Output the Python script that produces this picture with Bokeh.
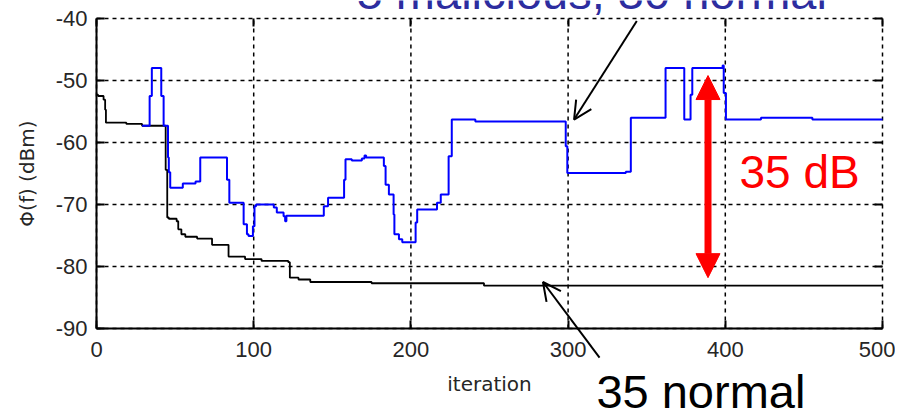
from bokeh.plotting import figure
from bokeh.models import (FixedTicker, LinearAxis, Label, Arrow, NormalHead, OpenHead, Grid)
from bokeh.embed import file_html
from bokeh.resources import INLINE

# ---- data ----
normal_iter = [0, 1, 4.5, 5.5, 6, 19, 29, 44, 45, 46, 51, 52, 54, 56.5, 64, 73.5, 84,
               94.5, 105, 122, 123, 128.5, 136, 175, 246.5, 500]
normal_phi = [-52.3, -52.5, -53.1, -54.7, -56.8, -57.0, -57.3, -64.4, -72.1, -72.3, -72.7,
              -74.0, -74.8, -75.2, -75.5, -76.5, -78.4, -78.8, -79.1, -79.3, -81.8, -82.1,
              -82.5, -82.7, -83.1, -83.1]

mixed_iter = [29, 33.8, 35.2, 41.2, 42.7, 45.5, 46, 46.9, 54.9, 63, 66, 83, 84.5, 93.6,
              95.7, 96.7, 99.5, 100.5, 101.5, 112.8, 114.7, 119, 120, 120.8, 144.6, 147.3,
              157.5, 158.4, 162.4, 168.8, 170.5, 171.5, 182.8, 183.9, 186, 189, 189.5,
              192.4, 194.5, 203, 204, 216.6, 219, 224, 226, 241, 298.5, 299.5, 336.7,
              339.9, 362, 373.9, 377.9, 379, 398.3, 399, 400.4, 422.7, 455.4, 500]
mixed_phi = [-57.3, -52.5, -48.0, -52.5, -57.3, -62.4, -64.8, -67.3, -66.6, -66.3, -62.4,
             -66.0, -69.7, -73.2, -74.8, -75.1, -73.5, -70.3, -70.0, -70.5, -71.3, -71.9,
             -72.7, -71.8, -70.3, -68.9, -66.0, -62.7, -62.9, -62.6, -62.1, -62.4, -63.8,
             -66.8, -68.4, -71.6, -74.8, -75.6, -76.1, -72.9, -70.8, -69.7, -68.4, -62.2,
             -56.3, -56.6, -60.6, -64.9, -64.7, -56.0, -48.0, -56.3, -52.3, -48.0, -47.6,
             -52.0, -56.3, -56.0, -56.3, -56.3]

x_ticks = [0, 100, 200, 300, 400, 500]
x_tick_labels = ["0", "100", "200", "300", "400", "500"]
y_ticks = [-90, -80, -70, -60, -50, -40]
y_tick_labels = ["-90", "-80", "-70", "-60", "-50", "-40"]

gap_x = 389
gap_top = -49.2
gap_bottom = -81.8

# ---- layout: the frame fills the whole canvas; the data box sits inside it ----
W, H = 895, 408
box_left, box_right, box_top, box_bottom = 96, 882, 18, 328   # canvas pixels
x0, x1 = x_ticks[0], x_ticks[-1]
y0, y1 = y_ticks[0], y_ticks[-1]
sx = (box_right - box_left) / (x1 - x0)
sy = (box_bottom - box_top) / (y1 - y0)
x_range = (x0 - box_left / sx, x1 + (W - box_right) / sx)
y_range = (y0 - (H - box_bottom) / sy, y1 + box_top / sy)

p = figure(width=W, height=H, x_range=x_range, y_range=y_range,
           output_backend="svg", toolbar_location=None,
           x_axis_location=None, y_axis_location=None,
           min_border_left=0, min_border_right=0, min_border_top=0, min_border_bottom=0)
p.outline_line_color = None
p.background_fill_color = "white"
p.border_fill_color = "white"
for r in list(p.center):
    if isinstance(r, Grid):
        r.visible = False

# dashed grid inside the data box
p.segment(x0=x_ticks, y0=[y0] * len(x_ticks), x1=x_ticks, y1=[y1] * len(x_ticks),
          line_color="black", line_dash="4 4", line_width=1.5)
p.segment(x0=[x0] * len(y_ticks), y0=y_ticks, x1=[x1] * len(y_ticks), y1=y_ticks,
          line_color="black", line_dash="4 4", line_width=1.5)

def style_axis(ax):
    ax.axis_line_color = "black"
    ax.axis_line_width = 2
    ax.major_tick_in = 8
    ax.major_tick_out = 0
    ax.major_tick_line_color = "black"
    ax.major_tick_line_width = 2
    ax.minor_tick_line_color = None
    ax.major_label_text_font = "Liberation Sans"
    ax.major_label_text_font_size = "22px"
    ax.major_label_text_color = "#262626"
    ax.axis_label_text_font = "DejaVu Sans"
    ax.axis_label_text_font_style = "normal"
    ax.axis_label_text_font_size = "20px"
    ax.axis_label_text_color = "#262626"

xaxis = LinearAxis(fixed_location=y0, bounds=(x0, x1), ticker=FixedTicker(ticks=x_ticks),
                   major_label_overrides=dict(zip(x_ticks, x_tick_labels)),
                   axis_label="iteration")
style_axis(xaxis)
xaxis.major_label_standoff = 13
xaxis.axis_label_standoff = 12
p.add_layout(xaxis, "below")

yaxis = LinearAxis(fixed_location=x0, bounds=(y0, y1), ticker=FixedTicker(ticks=y_ticks),
                   major_label_overrides=dict(zip(y_ticks, y_tick_labels)),
                   axis_label="\u03a6(f) (dBm)")
style_axis(yaxis)
yaxis.major_label_standoff = 9
yaxis.axis_label_standoff = 14
p.add_layout(yaxis, "left")

for ax_loc, loc, bnd, tk in (("above", y1, (x0, x1), x_ticks), ("right", x1, (y0, y1), y_ticks)):
    ax = LinearAxis(fixed_location=loc, bounds=bnd, ticker=FixedTicker(ticks=tk),
                    axis_line_color=None,
                    major_tick_in=8, major_tick_out=0, major_tick_line_color="black",
                    major_tick_line_width=2, minor_tick_line_color=None,
                    major_label_overrides={t: "" for t in tk},
                    major_label_text_font_size="10px", major_label_standoff=0)
    p.add_layout(ax, ax_loc)

p.step(normal_iter, normal_phi, mode="after", line_color="black", line_width=1.8)
p.step(mixed_iter, mixed_phi, mode="after", line_color="#0000ff", line_width=2)

# red double arrow
p.add_layout(Arrow(x_start=gap_x, y_start=gap_bottom, x_end=gap_x, y_end=gap_top,
                   line_color="#ff0000", line_width=7,
                   start=NormalHead(size=24, fill_color="#ff0000", line_color="#ff0000"),
                   end=NormalHead(size=24, fill_color="#ff0000", line_color="#ff0000")))
p.add_layout(Label(x=409, y=-68.9, text="35 dB", text_font="Liberation Sans",
                   text_font_size="46px", text_color="#ff0000"))

# black pointer arrows
p.add_layout(Arrow(x_start=343.7, y_start=-40.4, x_end=303.8, y_end=-56.3,
                   line_color="black", line_width=2,
                   end=OpenHead(size=18, line_color="black", line_width=2)))
p.add_layout(Arrow(x_start=320, y_start=-94.7, x_end=284, y_end=-82.5,
                   line_color="black", line_width=2,
                   end=OpenHead(size=18, line_color="black", line_width=2)))

p.add_layout(Label(x=318, y=-104.5, text="35 normal", text_font="Liberation Sans",
                   text_font_size="47px", text_color="black"))
p.add_layout(Label(x=165.5, y=-40.0, text="5 malicious, 30 normal", text_font="Liberation Sans",
                   text_font_size="47px", text_color="#2d2d9f"))

open("out.html", "w").write(file_html(p, INLINE))
